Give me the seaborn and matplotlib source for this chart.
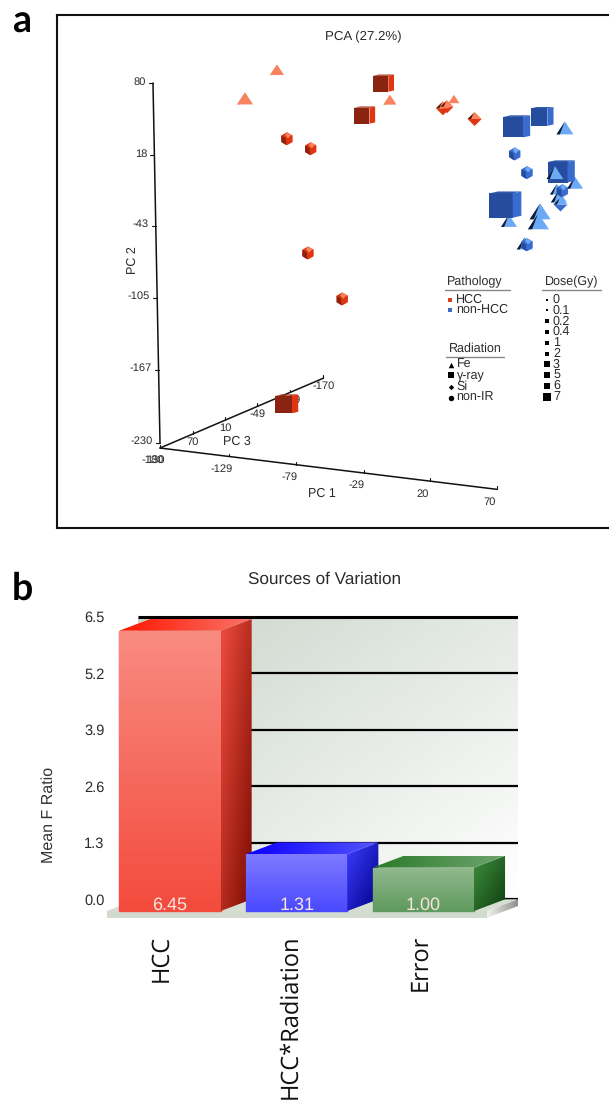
import numpy as np
import pandas as pd
import matplotlib
matplotlib.use('Agg')
import matplotlib.pyplot as plt
from matplotlib.colors import LinearSegmentedColormap
from matplotlib.patches import Polygon
from matplotlib.path import Path
from matplotlib.transforms import ScaledTranslation
import seaborn as sns

# panel a, values on the projected PC1 / PC2 scales of the picture
hcc_fe_x = [-93.2, -116.9, -9.4, 38.1]
hcc_fe_y = [91.2, 66.5, 65.4, 66.0]
hcc_fe_dose = [0.4, 1, 0.2, 0.1]
hcc_gamma_x = [-14.2, -28.2, -86.0]
hcc_gamma_y = [79.7, 52.2, -196.5]
hcc_gamma_dose = [3, 3, 5]
hcc_si_x = [29.9, 32.9, 53.4]
hcc_si_y = [58.2, 59.6, 49.0]
hcc_si_dose = [0.4, 0.2, 0.4]
hcc_nonir_x = [-85.8, -68.2, -70.2, -44.8]
hcc_nonir_y = [32.0, 23.4, -66.4, -106.0]
hcc_nonir_dose = [0, 0, 0, 0]

# these two sit behind the cubes
non_fe_back_x = [78.9, 127.9]
non_fe_back_y = [-39.0, -6.1]
non_fe_back_dose = [1, 1]
non_fe_x = [120.4, 114.5, 115.9, 102.0, 100.7, 90.6, 113.0]
non_fe_y = [41.0, -11.7, -17.9, -30.9, -39.5, -58.4, 2.5]
non_fe_dose = [2, 0.4, 1, 3, 3, 1, 2]
non_gamma_x = [84.6, 103.4, 117.7, 76.2]
non_gamma_y = [42.4, 51.0, 3.6, -25.0]
non_gamma_dose = [6, 5, 6, 7]
non_si_x = [117.0]
non_si_y = [-23.9]
non_si_dose = [0.4]
non_nonir_x = [83.2, 92.3, 118.5, 92.3]
non_nonir_y = [18.9, 2.8, -12.8, -59.3]
non_nonir_dose = [0, 0, 0, 0]

pc1_ticks = [-180, -129, -79, -29, 20, 70]
pc2_ticks = [80, 18, -43, -105, -167, -230]
pc3_ticks = [130, 70, 10, -49, -109, -170]
dose_levels = ['0', '0.1', '0.2', '0.4', '1', '2', '3', '5', '6', '7']

# panel b
sources = ['HCC', 'HCC*Radiation', 'Error']
f_ratio = [6.45, 1.31, 1.00]
f_ticks = [0.0, 1.3, 2.6, 3.9, 5.2, 6.5]

W, H = 609, 1107
sns.set_theme(style='white')
plt.rcParams['font.family'] = ['Liberation Sans', 'DejaVu Sans']
plt.rcParams['text.hinting'] = 'no_hinting'
txt = '#2b2b2b'


def px_axes(fig, l, t, r, b):
    return fig.add_axes([l / W, 1 - b / H, (r - l) / W, (b - t) / H])


def face(pts):
    # first moveto keeps all faces of a marker on the same scale
    verts = [(1, 1)] + list(pts) + [pts[0]]
    codes = [Path.MOVETO, Path.MOVETO] + [Path.LINETO] * (len(pts) - 1) + [Path.CLOSEPOLY]
    return Path(verts, codes)


dose_px = {0: 13, 0.1: 11, 0.2: 13, 0.4: 14, 1: 16, 2: 17, 3: 21, 5: 23, 6: 27, 7: 32}
dose_s = {k: (v * 0.72) ** 2 for k, v in dose_px.items()}

hexagon = [(0, 1), (.87, .5), (.87, -.5), (0, -1), (-.87, -.5), (-.87, .5)]
triangle = [
    (face([(-1, -.72), (1, -.72), (0, .8)]), 'light'),
    (face([(-1, -.72), (-.6, -.72), (-.05, .72), (0, .8)]), 'sliver'),
]
shapes = {
    'gamma': [
        (face([(-1, -.8), (.46, -.8), (.46, .72), (-1, .72)]), 'dark'),
        (face([(.46, -.8), (1, -.68), (1, .84), (.46, .72)]), 'mid'),
        (face([(-1, .72), (.46, .72), (1, .84), (-.45, .84)]), 'top'),
    ],
    'fe': triangle,
    'fe_back': triangle,
    'si': [
        (face([(-1, 0), (1, 0), (0, -1)]), 'mid'),
        (face([(-1, 0), (1, 0), (0, 1)]), 'light'),
        (face([(-1, 0), (-.5, 0), (-.1, .95), (0, 1)]), 'black'),
    ],
    'nonir': [
        (face(hexagon), 'mid'),
        (face([(-.87, .5), (-.2, .1), (-.1, -1), (-.87, -.5)]), 'dark'),
        (face([(0, 1), (.7, .6), (.15, .05), (-.3, .55)]), 'light'),
    ],
}
hcc_cols = {'dark': '#8a2410', 'mid': '#df3510', 'top': '#a83018', 'light': '#f7835f',
            'sliver': '#f7835f', 'black': '#5c1408'}
non_cols = {'dark': '#264c9e', 'mid': '#3a6cd0', 'top': '#2c58ae', 'light': '#6caaf5',
            'sliver': '#0f1c38', 'black': '#0f1c38'}

rows = [
    ('HCC', 'gamma', hcc_gamma_x, hcc_gamma_y, hcc_gamma_dose),
    ('HCC', 'fe', hcc_fe_x, hcc_fe_y, hcc_fe_dose),
    ('HCC', 'si', hcc_si_x, hcc_si_y, hcc_si_dose),
    ('HCC', 'nonir', hcc_nonir_x, hcc_nonir_y, hcc_nonir_dose),
    ('non-HCC', 'fe_back', non_fe_back_x, non_fe_back_y, non_fe_back_dose),
    ('non-HCC', 'gamma', non_gamma_x, non_gamma_y, non_gamma_dose),
    ('non-HCC', 'fe', non_fe_x, non_fe_y, non_fe_dose),
    ('non-HCC', 'si', non_si_x, non_si_y, non_si_dose),
    ('non-HCC', 'nonir', non_nonir_x, non_nonir_y, non_nonir_dose),
]
pca = pd.concat([pd.DataFrame({'pathology': p, 'radiation': r, 'x': x, 'y': y, 'dose': d})
                 for p, r, x, y, d in rows], ignore_index=True)

fig = plt.figure(figsize=(W / 100, H / 100), dpi=100)
fig.patch.set_facecolor('white')

# ---- panel a ----
ax = px_axes(fig, 57, 15, 612, 528)
sx, sy = 1.348, 1.161  # pixels per unit
ax.set_xlim(-180 + (57 - 160) / sx, -180 + (612 - 160) / sx)
ax.set_ylim(80 - (528 - 83) / sy, 80 + (83 - 15) / sy)
ax.set_xticks([])
ax.set_yticks([])
ax.spines['right'].set_visible(False)
for s in ['left', 'top', 'bottom']:
    ax.spines[s].set_linewidth(1.5)
    ax.spines[s].set_color('#111111')

# the three drawn axes
pc1_start, pc1_end = -234.4, -270.0
pc3_end_x, pc3_end_y = -58.9, -174.3
ax.plot([-185.2, -180], [80, -230], color='#111111', lw=1.1, zorder=1)
ax.plot([-180, 70], [pc1_start, pc1_end], color='#111111', lw=1.1, zorder=1)
ax.plot([-180, pc3_end_x], [pc1_start, pc3_end_y], color='#111111', lw=1.1, zorder=1)

for v in pc2_ticks:
    xv = np.interp(v, [-230, 80], [-180, -185.2])
    ax.plot([xv - 3, xv], [v, v], color='#111111', lw=0.8, zorder=1)
    ax.annotate(str(v), (xv, v), xytext=(-5, 1), textcoords='offset points', ha='right',
                va='center', fontsize=8, color=txt, zorder=1)
for v in pc1_ticks:
    yv = np.interp(v, [-180, 70], [pc1_start, pc1_end])
    ax.plot([v, v], [yv, yv + 2.5], color='#111111', lw=0.8, zorder=1)
    ax.annotate(str(v), (v, yv), xytext=(-5, -9), textcoords='offset points', ha='center',
                va='center', fontsize=8, color=txt, zorder=1)
for v in pc3_ticks:
    fr = (130 - v) / 300
    xv = -180 + fr * (pc3_end_x + 180)
    yv = pc1_start + fr * (pc3_end_y - pc1_start)
    if v == 130:
        ax.annotate(str(v), (xv, yv), xytext=(-3, -9), textcoords='offset points', ha='center',
                    va='center', fontsize=8, color=txt, zorder=1)
        continue
    ax.plot([xv, xv], [yv, yv + 2.5], color='#111111', lw=0.8, zorder=1)
    ax.annotate(str(v), (xv, yv), xytext=(0, -5.5), textcoords='offset points', ha='center',
                va='center', fontsize=8, color=txt, zorder=1)

z = 3
for (path_name, rad), part in pca.groupby(['pathology', 'radiation'], sort=False):
    cols = hcc_cols if path_name == 'HCC' else non_cols
    for shape, key_col in shapes[rad]:
        sns.scatterplot(data=part, x='x', y='y', size='dose', sizes=dose_s, marker=shape,
                        color=cols[key_col], linewidth=0, legend=False, ax=ax, zorder=z)
        z += 1
ax.set_xlabel('')
ax.set_ylabel('')

# ---- panel b ----
bx = px_axes(fig, 106.65, 613.3, 518, 918)
sns.barplot(x=sources, y=f_ratio, hue=sources, palette=['#f4604f', '#5a5aff', '#6fa36e'],
            width=0.8, legend=False, ax=bx)
bars = list(bx.patches)
xlim = (-0.5, 2.747)
ylim = (-0.16, 6.85)
dx, dy = 0.2447, 0.27


def grad(axis, verts, c0, c1, mode, zorder):
    cmap = LinearSegmentedColormap.from_list('g', [c0, c1])
    u = np.linspace(0, 1, 128)
    if mode == 'v':
        arr = np.tile(u[:, None], (1, 128))
    elif mode == 'h':
        arr = np.tile(u[None, :], (128, 1))
    else:
        arr = (u[:, None] + u[None, :]) / 2
    xs = [p[0] for p in verts]
    ys = [p[1] for p in verts]
    im = axis.imshow(arr, extent=(min(xs), max(xs), min(ys), max(ys)), cmap=cmap, vmin=0, vmax=1,
                     aspect='auto', zorder=zorder, interpolation='bilinear')
    im.set_clip_path(Polygon(verts, closed=True, transform=axis.transData))


# wall, grid lines and floor
grad(bx, [(-0.2553, dy), (2.747, dy), (2.747, 6.5 + dy), (-0.2553, 6.5 + dy)], '#cbd5cb', '#ffffff', 'd', 0.5)
for v in f_ticks:
    bx.plot([-0.2553, 2.747], [v + dy, v + dy], color='black', lw=2.2 if v == 6.5 else 1.6, zorder=0.6,
            solid_capstyle='butt')
bx.add_patch(Polygon([(-0.5, 0), (2.5, 0), (2.747, dy), (-0.2553, dy)], closed=True, color='#d6ddd3', lw=0, zorder=0.7))
bx.add_patch(Polygon([(-0.5, -0.155), (2.5, -0.155), (2.5, 0), (-0.5, 0)], closed=True, color='#d3dbd1', lw=0, zorder=0.7))
grad(bx, [(2.5, -0.155), (2.747, 0.115), (2.747, dy), (2.5, 0)], '#f2f2ee', '#8b8d88', 'h', 0.7)

bar_cols = [
    ('#f98b81', '#f34b3d', '#f04d3e', '#7a0a00', '#ff1500', '#f87468'),
    ('#7f7aff', '#4a4aff', '#3d3dff', '#000088', '#0a00ff', '#5555ff'),
    ('#92b98e', '#5f9a5e', '#3f8f3f', '#0e3d0e', '#2a7a2a', '#70a570'),
]
for i, bar in enumerate(bars):
    x0, x1 = bar.get_x(), bar.get_x() + bar.get_width()
    v = bar.get_height()
    fr0, fr1, sd0, sd1, tp0, tp1 = bar_cols[i]
    zb = 2 + i
    bar.set_zorder(zb - 0.1)
    bar.set_edgecolor(fr1)
    grad(bx, [(x1, 0), (x1 + dx, dy), (x1 + dx, v + dy), (x1, v)], sd0, sd1, 'd', zb)
    grad(bx, [(x0, v), (x1, v), (x1 + dx, v + dy), (x0 + dx, v + dy)], tp0, tp1, 'h', zb)
    grad(bx, [(x0, 0), (x1, 0), (x1, v), (x0, v)], fr0, fr1, 'v', zb)
    bx.annotate(f'{v:.2f}', ((x0 + x1) / 2, 0), xytext=(0, -1.5), textcoords='offset points', ha='center',
                va='bottom', fontsize=13, color='#f7e4df', zorder=10)

bx.set_xlim(*xlim)
bx.set_ylim(*ylim)
bx.set_yticks([v + dy for v in f_ticks], [f'{v:.1f}' for v in f_ticks])
bx.tick_params(axis='y', length=0, pad=1.5, labelsize=10.5, labelcolor=txt)
bx.tick_params(axis='x', length=0, pad=12)
label_shift = [-8.5, -6.5, -3.5]  # pixels
for lab, sh in zip(bx.get_xticklabels(), label_shift):
    lab.set_rotation(90)
    lab.set_fontfamily(['Open Sans', 'DejaVu Sans'])
    lab.set_fontsize(17)
    lab.set_color('#111111')
    lab.set_ha('center')
    lab.set_va('top')
    lab.set_transform(lab.get_transform() + ScaledTranslation(sh / 100, 0, fig.dpi_scale_trans))
bx.set_xlabel('')
bx.set_ylabel('')
for s in bx.spines.values():
    s.set_visible(False)
bx.patch.set_visible(False)

# ---- overlay in image pixels, for legend and captions ----
ov = fig.add_axes([0, 0, 1, 1], zorder=20)
ov.set_xlim(0, W)
ov.set_ylim(H, 0)
ov.axis('off')

ov.text(12, 33, 'a', fontfamily=['Lato', 'DejaVu Sans'], fontweight='bold', fontsize=27, color='black', va='baseline')
ov.text(12, 600, 'b', fontfamily=['Lato', 'DejaVu Sans'], fontweight='bold', fontsize=27, color='black', va='baseline')
ov.text(363, 37, 'PCA (27.2%)', ha='center', va='center', fontsize=9.5, color=txt)
ov.text(325, 579, 'Sources of Variation', ha='center', va='center', fontsize=12.3, color=txt)
ov.text(49, 815, 'Mean F Ratio', rotation=90, ha='center', va='center', fontsize=11.5, color='#333333')
ov.text(133, 260, 'PC 2', rotation=90, ha='center', va='center', fontsize=9, color=txt)
ov.text(237, 442, 'PC 3', ha='center', va='center', fontsize=9, color=txt)
ov.text(322, 494, 'PC 1', ha='center', va='center', fontsize=9, color=txt)


def head(label, x, y, x0, x1, ly):
    ov.text(x, y, label, ha='left', va='center', fontsize=9, color=txt)
    ov.plot([x0, x1], [ly, ly], color='#888888', lw=1)


def key(label, mx, tx, y, marker, w, col='black'):
    ov.scatter([mx], [y], marker=marker, s=(w * 0.72) ** 2, color=col, linewidths=0)
    ov.text(tx, y, label, ha='left', va='center', fontsize=9, color=txt)


head('Pathology', 447, 282, 445, 510, 290)
key('HCC', 450, 456, 299.5, 's', 5, '#d8401c')
key('non-HCC', 450, 456, 310, 's', 5, '#3a6cc8')
head('Radiation', 449, 349, 445.5, 504, 356.5)
key('Fe', 450.7, 456.5, 365, '^', 5.5)
key('γ-ray', 450.7, 456.5, 375, 's', 5.5)
key('Si', 450.7, 456.5, 386.5, 'D', 3.8)
key('non-IR', 450.7, 456.5, 397.5, 'o', 5.5)
head('Dose(Gy)', 545, 282, 542, 600.5, 290)
for i, d in enumerate(dose_levels):
    key(d, 547, 553, 299.5 + i * 10.8, 's', 2.2 + i * 0.55)

fig.savefig('out.png', dpi=100, facecolor='white')
